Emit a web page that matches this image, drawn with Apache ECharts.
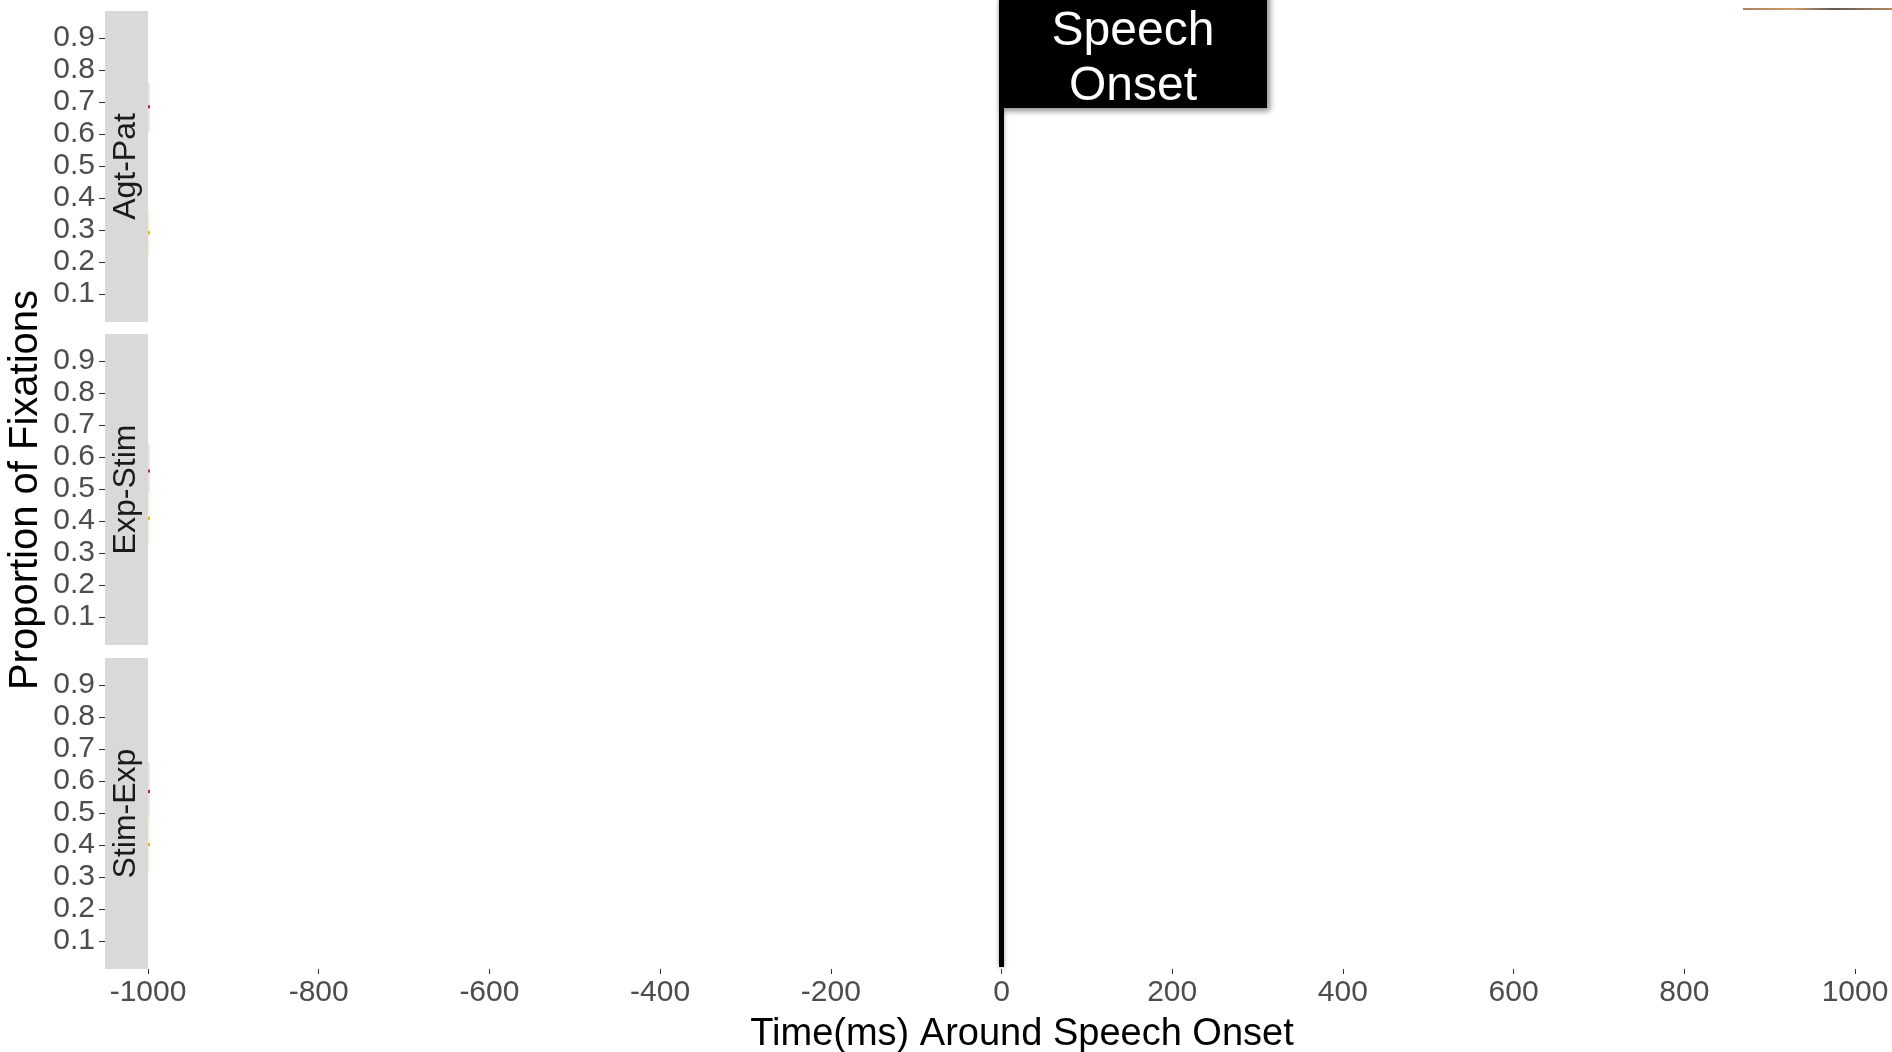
<!DOCTYPE html>
<html>
<head>
<meta charset="utf-8">
<title>Proportion of Fixations around Speech Onset</title>
<script src="https://cdn.jsdelivr.net/npm/echarts@6/dist/echarts.min.js"></script>
<style>
  html, body { margin: 0; padding: 0; background: #ffffff; }
  #chart { width: 1892px; height: 1052px; }
</style>
</head>
<body>
<div id="chart"></div>
<script>
// Facet panels (word-order conditions)
const panels = ['Agt-Pat', 'Exp-Stim', 'Stim-Exp'];

// Time axis (ms around speech onset)
const timeMin = -1000;
const timeMax = 1000;
const timeStep = 200;
const onsetTime = 0;

// Proportion axis tick labels
const yTicks = [0.1, 0.2, 0.3, 0.4, 0.5, 0.6, 0.7, 0.8, 0.9];
const yMin = 0.012;
const yMax = 0.984;

// First visible time bin of each series, per panel
const firstBin = [-1000, -1000, -1000];
const redMean = [0.685, 0.556, 0.567];
const redLow = [0.606, 0.490, 0.486];
const redHigh = [0.759, 0.640, 0.658];
const yellowMean = [0.291, 0.408, 0.401];
const yellowLow = [0.222, 0.323, 0.314];
const yellowHigh = [0.362, 0.490, 0.486];

const FONT = "'Liberation Sans', Arial, Helvetica, sans-serif";
const panelTops = [11, 334, 658];
const panelH = 311;
const plotLeft = 148;
const plotRight = 37;
const stripW = 43;

const chart = echarts.init(document.getElementById('chart'), null, { renderer: 'canvas' });

const grids = panelTops.map(t => ({ left: plotLeft, right: plotRight, top: t, height: panelH, containLabel: false }));

const xAxes = panels.map((p, i) => ({
  type: 'value',
  gridIndex: i,
  min: timeMin,
  max: timeMax,
  interval: timeStep,
  show: i === panels.length - 1,
  axisLine: { show: false, onZero: false },
  splitLine: { show: false },
  axisTick: { show: true, length: 5, lineStyle: { color: '#333333', width: 1 } },
  axisLabel: {
    show: true, margin: 9, color: '#4d4d4d', fontSize: 30, fontFamily: FONT,
    formatter: v => String(v)
  }
}));

const yAxes = panels.map((p, i) => ({
  type: 'value',
  gridIndex: i,
  min: yMin,
  max: yMax,
  offset: stripW,
  axisLine: { show: false, onZero: false },
  splitLine: { show: false },
  axisTick: { show: true, length: 6, customValues: yTicks, lineStyle: { color: '#333333', width: 1 } },
  axisLabel: {
    show: true, margin: 10, customValues: yTicks, color: '#4d4d4d', fontSize: 30, fontFamily: FONT,
    padding: [12, 0, 0, 0],
    formatter: v => v.toFixed(1)
  }
}));

// Ribbon (confidence band) plus mean mark at a time bin
function bandRenderer(meanColor, bandColor) {
  return function (params, api) {
    const x = api.value(0);
    const top = api.coord([x, api.value(3)]);
    const bot = api.coord([x, api.value(2)]);
    const mid = api.coord([x, api.value(1)]);
    return {
      type: 'group',
      children: [
        { type: 'rect', shape: { x: top[0], y: top[1], width: 2, height: bot[1] - top[1] }, style: { fill: bandColor } },
        { type: 'rect', shape: { x: mid[0], y: mid[1] - 1.5, width: 2, height: 3 }, style: { fill: meanColor } }
      ]
    };
  };
}

const series = [];
panels.forEach((p, i) => {
  series.push({
    type: 'custom', name: 'red', xAxisIndex: i, yAxisIndex: i, clip: false,
    renderItem: bandRenderer('#b8203f', 'rgba(220,120,150,0.22)'),
    data: [[firstBin[i], redMean[i], redLow[i], redHigh[i]]]
  });
  series.push({
    type: 'custom', name: 'yellow', xAxisIndex: i, yAxisIndex: i, clip: false,
    renderItem: bandRenderer('#e8b400', 'rgba(240,210,90,0.25)'),
    data: [[firstBin[i], yellowMean[i], yellowLow[i], yellowHigh[i]]]
  });
});

chart.setOption({
  animation: false,
  backgroundColor: '#ffffff',
  grid: grids,
  xAxis: xAxes,
  yAxis: yAxes,
  series: series
});

// Overlay: facet strips, axis titles, onset marker
const g = [];
panels.forEach((p, i) => {
  g.push({ type: 'rect', z: 0, shape: { x: plotLeft - stripW, y: panelTops[i], width: stripW, height: panelH }, style: { fill: '#d9d9d9' } });
  g.push({
    type: 'text', z: 1, x: plotLeft - stripW / 2, y: panelTops[i] + panelH / 2, rotation: Math.PI / 2,
    style: { text: p, fill: '#1a1a1a', font: '32px ' + FONT, align: 'center', verticalAlign: 'middle' }
  });
});

g.push({
  type: 'text', x: 26, y: 490, rotation: Math.PI / 2,
  style: { text: 'Proportion of Fixations', fill: '#000000', font: '40px ' + FONT, align: 'center', verticalAlign: 'middle' }
});
g.push({
  type: 'text', x: 1022, y: 1035,
  style: { text: 'Time(ms) Around Speech Onset', fill: '#000000', font: '38px ' + FONT, align: 'center', verticalAlign: 'middle' }
});

const x0 = chart.convertToPixel({ xAxisIndex: panels.length - 1 }, onsetTime);
const lineBottom = panelTops[panels.length - 1] + panelH - 2;
g.push({
  type: 'line', z: 10,
  shape: { x1: x0, y1: 0, x2: x0, y2: lineBottom },
  style: { stroke: '#000000', lineWidth: 5, shadowBlur: 4, shadowColor: 'rgba(0,0,0,0.35)' }
});
g.push({
  type: 'rect', z: 11,
  shape: { x: x0 - 2.5, y: -10, width: 268, height: 118 },
  style: { fill: '#000000', shadowBlur: 6, shadowOffsetX: 3, shadowOffsetY: 3, shadowColor: 'rgba(0,0,0,0.45)' }
});
g.push({
  type: 'text', z: 12, x: x0 + 131.5, y: 59,
  style: { text: 'Speech\nOnset', fill: '#ffffff', font: '48px ' + FONT, align: 'center', verticalAlign: 'middle', lineHeight: 55 }
});

// Thin rule at the upper right
g.push({
  type: 'line', z: 5,
  shape: { x1: 1743, y1: 9, x2: 1892, y2: 9 },
  style: {
    lineWidth: 1.5,
    stroke: new echarts.graphic.LinearGradient(0, 0, 1, 0, [
      { offset: 0, color: '#8a5a2a' },
      { offset: 0.35, color: '#c47a32' },
      { offset: 0.6, color: '#2a2020' },
      { offset: 1, color: '#a0622a' }
    ])
  }
});

chart.setOption({ graphic: g });
</script>
</body>
</html>
